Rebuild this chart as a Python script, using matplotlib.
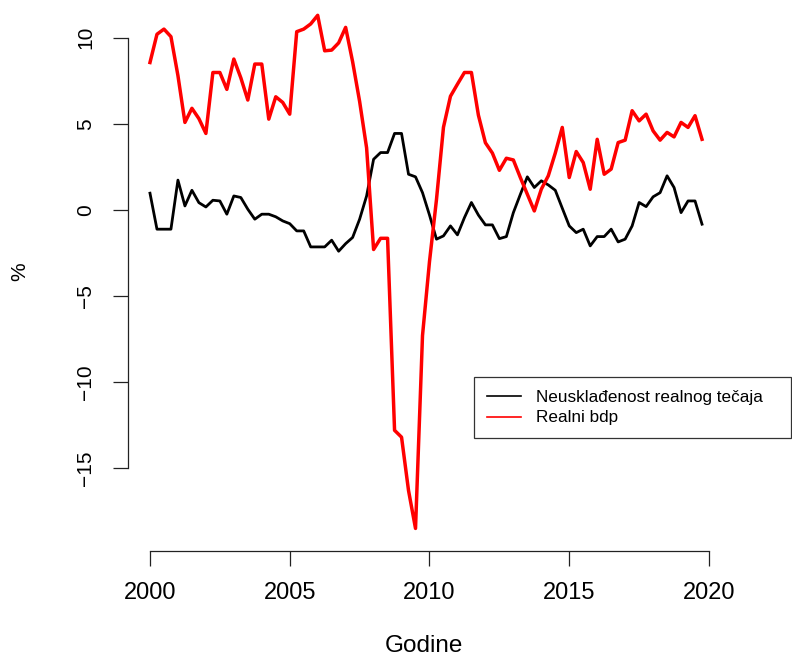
import numpy as np
import matplotlib
matplotlib.use('Agg')
import matplotlib.pyplot as plt
from matplotlib.lines import Line2D

plt.rcParams['font.family'] = ['Liberation Sans', 'DejaVu Sans']

# quarterly data, 2000Q1 - 2019Q4
quarters = 2000 + 0.25*np.arange(80)

neuskladenost = [
    0.97, -1.12, -1.12, -1.12, 1.73, 0.23, 1.14, 0.42,
    0.17, 0.56, 0.52, -0.25, 0.81, 0.72, 0.04, -0.54,
    -0.25, -0.25, -0.40, -0.64, -0.80, -1.22, -1.22, -2.15,
    -2.15, -2.15, -1.76, -2.40, -1.96, -1.60, -0.54, 0.81,
    2.94, 3.33, 3.33, 4.44, 4.44, 2.07, 1.92, 1.00,
    -0.30, -1.70, -1.51, -0.93, -1.45, -0.45, 0.43, -0.30,
    -0.87, -0.87, -1.67, -1.55, -0.16, 0.90, 1.92, 1.30,
    1.69, 1.45, 1.14, 0.10, -0.93, -1.32, -1.12, -2.09,
    -1.55, -1.55, -1.12, -1.86, -1.70, -0.93, 0.43, 0.19,
    0.76, 1.00, 1.98, 1.30, -0.16, 0.52, 0.52, -0.83]

realni_bdp = [
    8.56, 10.2, 10.5, 10.06, 7.8, 5.08, 5.9, 5.3,
    4.44, 7.98, 7.98, 7.0, 8.76, 7.67, 6.38, 8.47,
    8.47, 5.27, 6.57, 6.24, 5.56, 10.35, 10.5, 10.8,
    11.3, 9.24, 9.28, 9.7, 10.6, 8.6, 6.3, 3.6,
    -2.3, -1.65, -1.65, -12.8, -13.2, -16.3, -18.5, -7.3,
    -3.0, 0.6, 4.8, 6.6, 7.3, 7.98, 7.98, 5.5,
    3.9, 3.3, 2.3, 3.0, 2.9, 1.88, 0.91, -0.06,
    1.2, 1.98, 3.3, 4.79, 1.88, 3.39, 2.75, 1.2,
    4.1, 2.07, 2.37, 3.91, 4.05, 5.76, 5.17, 5.56,
    4.59, 4.05, 4.5, 4.24, 5.08, 4.79, 5.47, 4.1]

xticks = [2000, 2005, 2010, 2015, 2020]
yticks = [-15, -10, -5, 0, 5, 10]
labels = ['Neusklađenost realnog tečaja', 'Realni bdp']

W, H = 792, 660
fig = plt.figure(figsize=(W/100, H/100), dpi=100)
ax = fig.add_axes([127.9/W, (H-551)/H, 596.2/W, 551/H])

ax.plot(quarters, neuskladenost, color='black', lw=2.0)
ax.plot(quarters, realni_bdp, color='red', lw=2.5)

ax.set_xlim(1999.21, 2020.54)
ax.set_ylim(-19.81, 12.19)

for s in ['top', 'right']:
    ax.spines[s].set_visible(False)
ax.spines['left'].set_bounds(-15, 10)
ax.spines['bottom'].set_bounds(2000, 2020)
for s in ['left', 'bottom']:
    ax.spines[s].set_linewidth(0.9)
    ax.spines[s].set_color('#222222')

ax.set_xticks(xticks)
ax.set_yticks(yticks)
ax.tick_params(axis='both', direction='out', length=10.5, width=0.9, color='#222222')
ax.tick_params(axis='x', labelsize=17, pad=12)
ax.tick_params(axis='y', labelsize=15, pad=13)
for t in ax.get_yticklabels():
    t.set_rotation(90)
    t.set_va('center')

fig.text(424/W, 1-646/H, 'Godine', fontsize=17.5, ha='center', va='center')
fig.text(20/W, 1-272/H, '%', fontsize=15, rotation=90, ha='center', va='center')

handles = [Line2D([], [], color='black', lw=1.2), Line2D([], [], color='red', lw=1.2)]
leg = fig.legend(handles, labels, loc='lower left',
                 bbox_to_anchor=(474/W, (H-438.3)/H, 316.7/W, 59/H),
                 mode='expand', fontsize=12.3, frameon=True, fancybox=False,
                 edgecolor='black', borderpad=0.75, handlelength=2.0,
                 handletextpad=0.9, labelspacing=0.35, borderaxespad=0)
leg.get_frame().set_linewidth(0.9)

fig.savefig('out.png', dpi=100)
